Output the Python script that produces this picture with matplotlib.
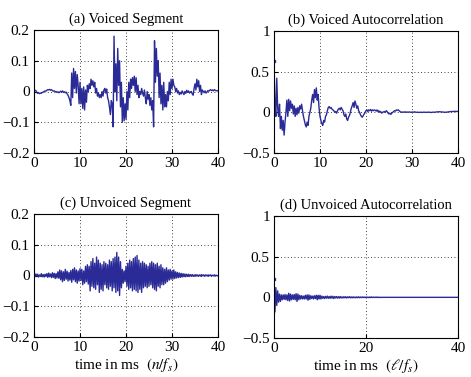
import numpy as np
import matplotlib
matplotlib.use('Agg')
import matplotlib.pyplot as plt

plt.rcParams['font.family'] = ['Liberation Serif', 'DejaVu Serif']
plt.rcParams['mathtext.fontset'] = 'stix'

voiced_seg = [
    0.005, 0.004, 0.003, -0.002, -0.006, -0.004, -0.007, -0.005, -0.006, -0.003,
    -0.002, 0.000, 0.002, 0.001, 0.004, 0.006, 0.005, 0.007, 0.004, 0.006,
    0.003, 0.001, 0.002, -0.001, 0.000, -0.003, -0.001, -0.004, -0.002, 0.001,
    -0.002, 0.002, -0.003, -0.001, -0.004, -0.002, -0.008, -0.012, -0.02, -0.03,
    -0.045, 0.06, -0.02, 0.075, 0.01, 0.065, -0.005, 0.055, 0.02, -0.04,
    0.03, -0.04, 0.01, -0.055, 0.015, -0.06, 0.005, -0.035, 0.02, 0.0,
    0.025, 0.01, 0.04, 0.02, 0.035, 0.015, 0.03, -0.005, 0.01, -0.015,
    -0.005, -0.02, -0.01, -0.02, 0.0, -0.015, 0.005, 0.01, -0.005, 0.008,
    -0.02, -0.03, -0.05, -0.075, -0.03, -0.04, -0.115, 0.18, 0.0, 0.09,
    -0.03, 0.14, 0.02, 0.1, -0.05, 0.03, -0.1, -0.02, -0.095, -0.04,
    -0.09, 0.0, -0.06, 0.03, -0.02, 0.04, 0.01, 0.045, 0.02, 0.05,
    0.0, 0.045, -0.01, 0.02, -0.02, 0.0, -0.01, 0.01, -0.005, -0.015,
    0.005, -0.02, -0.04, 0.0, -0.025, -0.01, -0.045, -0.02, -0.06, -0.03,
    -0.115, 0.165, 0.03, 0.14, 0.05, 0.1, -0.02, 0.06, -0.04, 0.02,
    -0.06, 0.03, -0.05, -0.01, -0.05, 0.0, -0.03, 0.03, -0.01, 0.04,
    0.01, 0.04, 0.02, 0.015, 0.0, 0.01, -0.005, 0.002, -0.01, -0.003,
    -0.008, 0.002, -0.004, -0.01, 0.0, -0.006, 0.004, -0.003, 0.002, -0.005,
    -0.002, 0.0, -0.008, -0.012, 0.01, 0.025, 0.005, 0.04, 0.015, 0.035,
    0.0, 0.02, -0.01, 0.005, 0.0, -0.004, 0.002, -0.005, -0.002, 0.003,
    0.001, 0.004, 0.006, 0.003, 0.005, 0.002, 0.006, 0.004, 0.002, 0.003, 0.002,
]

voiced_acf = [
    0.63, 0.1, -0.05, 0.42, 0.05, -0.05, 0.1, -0.2, -0.05, -0.22,
    -0.1, -0.28, -0.12, 0.0, 0.15, -0.05, 0.16, 0.02, 0.14, 0.05,
    0.1, -0.02, 0.08, -0.05, 0.05, -0.03, 0.06, -0.01, 0.08, 0.04,
    0.1, 0.02, -0.05, -0.1, -0.15, -0.18, -0.12, -0.16, -0.05, 0.0,
    0.05, 0.15, 0.22, 0.12, 0.28, 0.18, 0.3, 0.15, 0.22, 0.05,
    -0.05, -0.1, -0.14, -0.16, -0.1, -0.12, -0.05, -0.03, 0.02, 0.06,
    0.07, 0.05, 0.06, 0.04, 0.03, 0.02, 0.0, 0.01, -0.01, 0.02,
    0.04, 0.05, 0.03, 0.06, 0.04, 0.02, -0.03, -0.05, -0.02, -0.08,
    -0.1, -0.06, -0.04, 0.0, 0.05, 0.08, 0.12, 0.06, 0.14, 0.1,
    0.05, 0.08, 0.02, 0.0, -0.03, -0.05, -0.06, -0.04, -0.02, 0.0,
    0.02, 0.03, 0.01, 0.03, 0.02, 0.035, 0.015, 0.03, 0.02, 0.03,
    0.025, 0.015, 0.03, 0.01, 0.02, 0.0, 0.01, -0.01, 0.0, 0.005,
    0.01, 0.0, 0.02, 0.01, -0.01, -0.02, -0.01, -0.025, -0.01, 0.0,
    0.01, 0.02, 0.015, 0.03, 0.025, 0.03, 0.02, 0.01, 0.0, 0.005,
    0.0, 0.005, 0.002, 0.006, 0.0, 0.004, 0.001, 0.005, 0.002, 0.0,
    0.004, 0.001, 0.003, 0.006, 0.002, 0.0, 0.003, -0.002, 0.001, 0.0,
    0.002, -0.002, 0.0, 0.003, 0.001, -0.001, 0.002, 0.0, 0.003, 0.001,
    0.0, -0.002, 0.001, 0.003, 0.002, 0.0, 0.004, 0.006, 0.005, 0.007,
    0.008, 0.006, 0.004, 0.005, 0.003, 0.001, 0.002, 0.0, 0.003, 0.004,
    0.006, 0.008, 0.01, 0.009, 0.011, 0.012, 0.01, 0.013, 0.011, 0.012, 0.01,
]

unvoiced_seg = [
    0.003, -0.004, 0.005, -0.002, 0.004, -0.005, 0.002, -0.003, 0.006, -0.004,
    0.003, -0.005, 0.004, -0.003, 0.006, -0.006, 0.008, -0.004, 0.005, -0.007,
    0.009, -0.006, 0.007, -0.01, 0.006, -0.008, 0.012, -0.009, 0.018, -0.014,
    0.015, -0.02, 0.012, -0.016, 0.02, -0.012, 0.014, -0.018, 0.01, -0.015,
    0.016, -0.022, 0.02, -0.014, 0.025, -0.02, 0.018, -0.025, 0.015, -0.018,
    0.022, -0.016, 0.02, -0.03, 0.015, -0.025, 0.03, -0.02, 0.035, -0.028,
    0.03, -0.05, 0.045, -0.035, 0.055, -0.04, 0.04, -0.045, 0.06, -0.03,
    0.05, -0.055, 0.04, -0.045, 0.035, -0.05, 0.045, -0.03, 0.04, -0.04,
    0.035, -0.045, 0.05, -0.035, 0.045, -0.05, 0.055, -0.04, 0.06, -0.055,
    0.075, -0.05, 0.06, -0.065, 0.045, -0.04, 0.02, -0.025, 0.015, -0.02,
    0.03, -0.035, 0.04, -0.045, 0.05, -0.04, 0.045, -0.05, 0.055, -0.045,
    0.06, -0.05, 0.065, -0.055, 0.05, -0.045, 0.04, -0.055, 0.045, -0.04,
    0.04, -0.035, 0.035, -0.04, 0.03, -0.035, 0.04, -0.03, 0.045, -0.04,
    0.04, -0.045, 0.035, -0.05, 0.04, -0.035, 0.03, -0.04, 0.035, -0.03,
    0.025, -0.03, 0.02, -0.025, 0.025, -0.02, 0.018, -0.015, 0.02, -0.012,
    0.015, -0.012, 0.018, -0.01, 0.012, -0.008, 0.01, -0.007, 0.008, -0.006,
    0.007, -0.005, 0.006, -0.004, 0.005, -0.004, 0.004, -0.003, 0.004, -0.003,
    0.003, -0.002, 0.003, -0.003, 0.002, -0.002, 0.003, -0.002, 0.002, -0.002,
    0.002, -0.002, 0.003, -0.001, 0.002, -0.002, 0.002, -0.001, 0.002, -0.002,
    0.002, -0.001, 0.002, -0.002, 0.001, -0.001, 0.002, -0.001, 0.001, -0.001, 0.0,
]

# unvoiced autocorrelation, 0.2 ms steps up to 23.8 ms, then flat
unvoiced_acf = [
    0.23, -0.18, 0.12, -0.1, 0.08, -0.06, 0.04, -0.05, 0.03, -0.03,
    0.03, -0.025, 0.035, -0.03, 0.03, -0.04, 0.05, -0.045, 0.04, -0.03,
    0.03, -0.025, 0.035, -0.03, 0.045, -0.05, 0.04, -0.03, 0.025, -0.02,
    0.02, -0.02, 0.015, -0.02, 0.025, -0.02, 0.03, -0.035, 0.03, -0.025,
    0.02, -0.015, 0.015, -0.02, 0.02, -0.015, 0.025, -0.03, 0.025, -0.02,
    0.025, -0.02, 0.015, -0.012, 0.01, -0.015, 0.012, -0.01, 0.015, -0.012,
    0.01, -0.012, 0.015, -0.01, 0.012, -0.015, 0.01, -0.008, 0.01, -0.01,
    0.008, -0.01, 0.01, -0.008, 0.006, -0.008, 0.008, -0.006, 0.007, -0.008,
    0.006, -0.005, 0.008, -0.006, 0.005, -0.006, 0.006, -0.005, 0.004, -0.006,
    0.005, -0.004, 0.006, -0.005, 0.004, -0.004, 0.005, -0.003, 0.004, -0.004,
    0.004, -0.003, 0.003, -0.004, 0.004, -0.003, 0.005, -0.003, 0.003, -0.002,
    0.003, -0.002, 0.004, -0.003, 0.002, -0.002, 0.001, -0.001, 0.0, 0.0,
    0.0, 0.0,
]

step = 0.2
t_full = np.arange(len(voiced_seg)) * step
t_uacf = np.append(np.arange(len(unvoiced_acf) - 2) * step, [24.0, 40.0])

line_color = '#2b2b98'

fig = plt.figure(figsize=(4.71, 3.77), dpi=100)
W, H = 471.0, 377.0
boxes = {
    'a': [34 / W, 1 - 153 / H, 184 / W, 123 / H],
    'b': [274 / W, 1 - 153 / H, 184 / W, 122 / H],
    'c': [34 / W, 1 - 337 / H, 184 / W, 123 / H],
    'd': [274 / W, 1 - 338 / H, 184 / W, 122 / H],
}

panels = [
    ('a', t_full, voiced_seg, '(a) Voiced Segment', (-0.2, 0.2),
     [-0.2, -0.1, 0, 0.1, 0.2], [0, 10, 20, 30, 40], None),
    ('b', t_full, voiced_acf, '(b) Voiced Autocorrelation', (-0.5, 1),
     [-0.5, 0, 0.5, 1], [0, 10, 20, 30, 40], None),
    ('c', t_full, unvoiced_seg, '(c) Unvoiced Segment', (-0.2, 0.2),
     [-0.2, -0.1, 0, 0.1, 0.2], [0, 10, 20, 30, 40], r'time in ms  $(n/f_s)$'),
    ('d', t_uacf, unvoiced_acf, '(d) Unvoiced Autocorrelation', (-0.5, 1),
     [-0.5, 0, 0.5, 1], [0, 20, 40], r'time in ms  $(\ell/f_s)$'),
]

for key, t, y, title, ylim, yt, xt, xlab in panels:
    ax = fig.add_axes(boxes[key])
    ax.plot(t, y, color=line_color, lw=1.0)
    if key in ('b', 'd'):
        ax.plot(t[0], y[0], 's', color=line_color, ms=2)
    ax.set_xlim(0, 40)
    ax.set_ylim(*ylim)
    ax.set_xticks(xt)
    ax.set_yticks(yt)
    ax.set_yticklabels([('%g' % v).replace('-', '\u2212') for v in yt])
    ax.grid(True, color='black', linestyle=(0, (1, 3)), linewidth=0.6)
    ax.tick_params(direction='in', length=3, labelsize=11, pad=3)
    for s in ax.spines.values():
        s.set_linewidth(0.8)
    ax.set_title(title, fontsize=10.5, pad=5)
    if xlab:
        ax.set_xlabel(xlab, fontsize=11, labelpad=1)

fig.savefig('out.png', dpi=100)
